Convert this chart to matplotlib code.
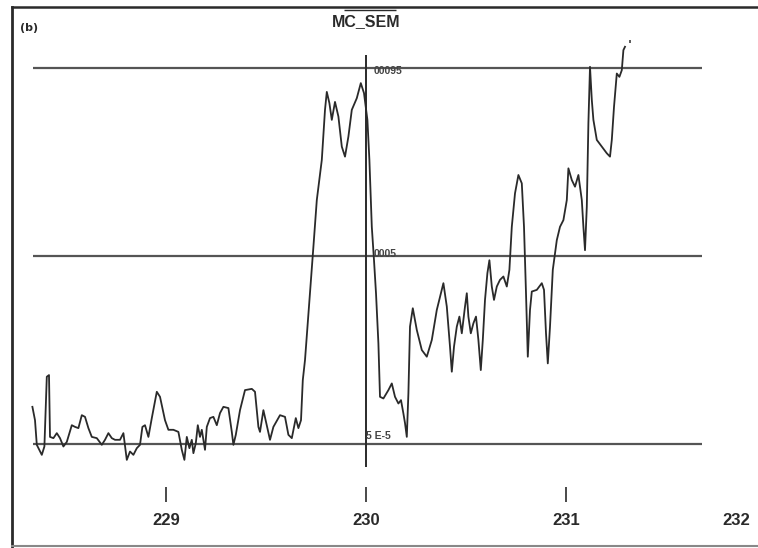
import numpy as np
import matplotlib.pyplot as plt

# trace: x position, signal in units of 1e-4
x_trace = np.array([
    228.332, 228.345, 228.354, 228.379, 228.392, 228.404, 228.415, 228.420, 228.437, 228.454,
    228.470, 228.487, 228.504, 228.529, 228.545, 228.562, 228.579, 228.595, 228.612, 228.629,
    228.654, 228.679, 228.695, 228.712, 228.729, 228.745, 228.770, 228.787, 228.804, 228.820,
    228.837, 228.854, 228.870, 228.882, 228.895, 228.912, 228.929, 228.954, 228.970, 228.995,
    229.012, 229.037, 229.062, 229.079, 229.092, 229.104, 229.117, 229.129, 229.137, 229.149,
    229.159, 229.170, 229.179, 229.195, 229.204, 229.220, 229.237, 229.254, 229.270, 229.287,
    229.312, 229.329, 229.337, 229.349, 229.370, 229.395, 229.429, 229.445, 229.462, 229.470,
    229.487, 229.504, 229.520, 229.537, 229.570, 229.595, 229.612, 229.629, 229.649, 229.662,
    229.675, 229.684, 229.695, 229.720, 229.737, 229.754, 229.779, 229.795, 229.804, 229.817,
    229.829, 229.845, 229.862, 229.879, 229.895, 229.912, 229.929, 229.954, 229.974, 229.990,
    230.007, 230.017, 230.029, 230.040, 230.050, 230.062, 230.070, 230.087, 230.112, 230.129,
    230.145, 230.162, 230.175, 230.187, 230.195, 230.204, 230.212, 230.220, 230.234, 230.254,
    230.279, 230.304, 230.329, 230.354, 230.379, 230.387, 230.404, 230.420, 230.429, 230.440,
    230.454, 230.467, 230.479, 230.495, 230.504, 230.512, 230.524, 230.537, 230.550, 230.562,
    230.574, 230.584, 230.595, 230.607, 230.617, 230.629, 230.640, 230.654, 230.670, 230.687,
    230.704, 230.717, 230.729, 230.745, 230.762, 230.779, 230.790, 230.800, 230.809, 230.820,
    230.829, 230.854, 230.879, 230.890, 230.900, 230.909, 230.920, 230.934, 230.954, 230.970,
    230.987, 231.004, 231.012, 231.029, 231.045, 231.062, 231.079, 231.087, 231.095, 231.104,
    231.112, 231.120, 231.129, 231.137, 231.154, 231.179, 231.204, 231.220, 231.229, 231.240,
    231.254, 231.267, 231.279, 231.287, 231.295,
])
y_trace = np.array([
    1.39, 1.07, 0.48, 0.24, 0.44, 2.11, 2.15, 0.67, 0.64, 0.76,
    0.64, 0.44, 0.55, 0.95, 0.91, 0.88, 1.19, 1.15, 0.88, 0.67,
    0.64, 0.48, 0.60, 0.76, 0.64, 0.60, 0.60, 0.76, 0.12, 0.32,
    0.24, 0.40, 0.48, 0.91, 0.95, 0.67, 1.12, 1.75, 1.63, 1.07,
    0.84, 0.84, 0.79, 0.36, 0.12, 0.67, 0.40, 0.60, 0.28, 0.52,
    0.95, 0.67, 0.84, 0.36, 0.91, 1.12, 1.15, 0.95, 1.24, 1.39,
    1.36, 0.79, 0.48, 0.72, 1.31, 1.79, 1.82, 1.75, 0.91, 0.79,
    1.31, 0.95, 0.60, 0.91, 1.19, 1.15, 0.72, 0.64, 1.12, 0.88,
    1.07, 2.03, 2.51, 4.11, 5.22, 6.34, 7.30, 8.50, 8.93, 8.66,
    8.26, 8.69, 8.34, 7.62, 7.38, 7.86, 8.50, 8.78, 9.14, 8.90,
    8.26, 7.30, 5.70, 4.90, 4.11, 2.91, 1.63, 1.59, 1.79, 1.95,
    1.63, 1.47, 1.55, 1.23, 1.00, 0.67, 1.71, 3.31, 3.75, 3.23,
    2.75, 2.59, 2.99, 3.71, 4.19, 4.35, 3.79, 2.83, 2.23, 2.83,
    3.31, 3.55, 3.15, 3.79, 4.11, 3.55, 3.15, 3.39, 3.55, 2.99,
    2.27, 2.99, 3.95, 4.59, 4.90, 4.27, 3.95, 4.27, 4.43, 4.51,
    4.27, 4.67, 5.70, 6.50, 6.94, 6.74, 5.70, 4.11, 2.59, 3.71,
    4.15, 4.19, 4.35, 4.19, 3.15, 2.43, 3.31, 4.67, 5.38, 5.70,
    5.86, 6.34, 7.10, 6.82, 6.66, 6.94, 6.34, 5.70, 5.14, 6.18,
    8.18, 9.53, 8.74, 8.26, 7.78, 7.62, 7.46, 7.38, 7.78, 8.57,
    9.37, 9.29, 9.45, 9.93, 10.01,
])

# reference levels (units of 1e-4) and their labels as printed
ref_levels = [9.5, 5.0, 0.5]
ref_labels = ['00095', '0005', '5 E-5']
x_ticks = [229, 230, 231]
x_tick_labels = ['229', '230', '231', '232']
x_label_pos = [229, 230, 231, 231.85]
marker_x = 230.0

fig = plt.figure(figsize=(7.58, 5.48), dpi=100)
ax = fig.add_axes([0, 0, 1, 1])
ax.set_xlim(228.17, 231.96)
ax.set_ylim(-1.99, 11.13)
ax.axis('off')

ink = '#2a2a2a'

# outer frame of the scanned panel
fig.add_artist(plt.Line2D([0.016, 0.016], [0.0, 0.987], color=ink, lw=2.0))
fig.add_artist(plt.Line2D([0.016, 1.0], [0.987, 0.987], color=ink, lw=1.8))
fig.add_artist(plt.Line2D([0.016, 1.0], [0.004, 0.004], color='#888888', lw=1.5))

# horizontal reference levels
for lev in ref_levels:
    ax.hlines(lev, 228.335, 231.68, color='#555555', lw=1.6)

# vertical marker at 230
ax.vlines(marker_x, -0.05, 9.81, color=ink, lw=1.4)

ax.plot(x_trace, y_trace, color=ink, lw=1.3)

# level labels next to the marker
lab_kw = dict(fontsize=7.5, fontweight='bold', ha='left', color='#444444', family='Liberation Sans')
ax.text(marker_x + 0.04, ref_levels[0] + 0.05, ref_labels[0], va='top', **lab_kw)
ax.text(marker_x + 0.04, ref_levels[1] + 0.05, ref_labels[1], va='center', **lab_kw)
ax.text(marker_x + 0.0, ref_levels[2] + 0.08, ref_labels[2], va='bottom', **lab_kw)

# x ticks drawn below the plot
for xt in x_ticks:
    ax.vlines(xt, -0.89, -0.53, color=ink, lw=1.2)
for xp, lab in zip(x_label_pos, x_tick_labels):
    ax.text(xp, -1.32, lab, fontsize=12, fontweight='bold', ha='center', va='center',
            family='Liberation Sans', color=ink)

# title with overline
ax.text(marker_x, 10.62, 'MC_SEM', fontsize=11.5, fontweight='bold', ha='center', va='center',
        family='Liberation Sans', color=ink)
ax.hlines(10.88, marker_x - 0.11, marker_x + 0.15, color=ink, lw=1.0)
ax.text(228.27, 10.45, '(b)', fontsize=8, fontweight='bold', ha='left', va='center', color=ink)
ax.text(231.31, 10.05, "'", fontsize=9, fontweight='bold', ha='left', va='center', color=ink)

fig.savefig('out.png', dpi=100)
